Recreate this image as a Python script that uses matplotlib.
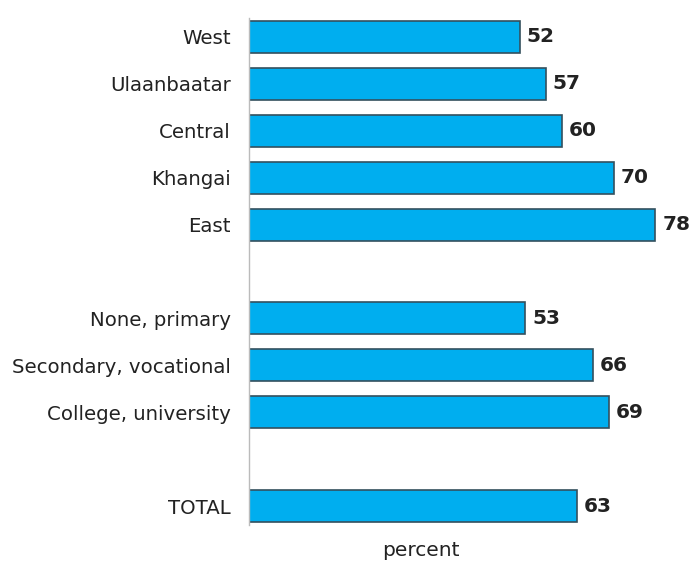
import matplotlib
matplotlib.use("Agg")
import matplotlib.pyplot as plt

# Share of respondents by region, education and overall
labels = ["West", "Ulaanbaatar", "Central", "Khangai", "East",
          "None, primary", "Secondary, vocational", "College, university",
          "TOTAL"]
values = [52, 57, 60, 70, 78, 53, 66, 69, 63]
# slot positions leave blank rows between the groups
slots = [0, 1, 2, 3, 4, 6, 7, 8, 10]

W, H = 693, 563
fig = plt.figure(figsize=(W / 100, H / 100), dpi=100)
ax = fig.add_axes([249 / W, (H - 525) / H, (W - 249) / W, 507 / H])

ax.barh(slots, values, height=0.68, color="#00AEEF",
        edgecolor="#34505e", linewidth=1.2)

for y, v in zip(slots, values):
    ax.text(v + 1.3, y, str(v), va="center", ha="left",
            fontsize=14.5, fontweight="bold", color="#222222")

ax.set_xlim(0, 85.2)
ax.set_ylim(10.4, -0.4)
ax.set_yticks(slots)
ax.set_yticklabels(labels, fontsize=14.2, color="#222222")
ax.tick_params(axis="y", length=0, pad=13)
ax.set_xticks([])

for side in ["top", "right", "bottom"]:
    ax.spines[side].set_visible(False)
ax.spines["left"].set_color("#bbbbbb")
ax.spines["left"].set_linewidth(1)

fig.text(421 / W, 1 - 550 / H, "percent", ha="center", va="center",
         fontsize=14.5, color="#222222")

fig.savefig("out.png", dpi=100)
